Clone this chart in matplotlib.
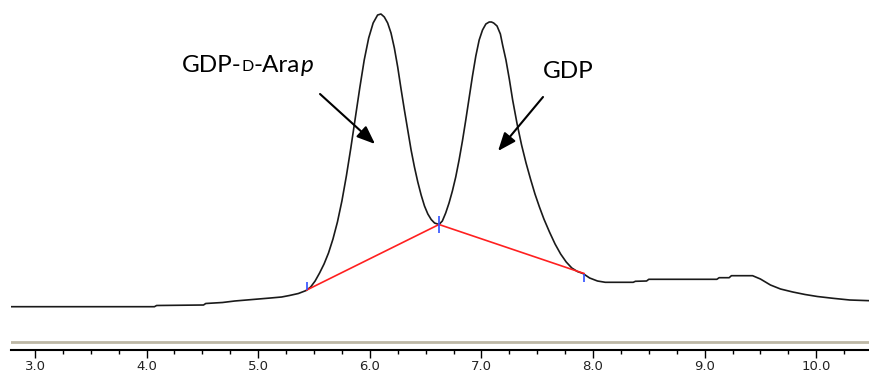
"""
HPLC trace: GDP-D-Arap and GDP peaks with integration baseline.
"""

import matplotlib
matplotlib.use("Agg")
import matplotlib.pyplot as plt
from matplotlib.ticker import MultipleLocator, FormatStrFormatter

# Trace (retention time in min, detector signal in a.u.)
time = [2.78, 4.07, 4.09, 4.51, 4.53, 4.68, 4.79, 4.95, 5.11, 5.21, 5.28, 5.36,
        5.43, 5.47, 5.51, 5.55, 5.59, 5.63, 5.67, 5.71, 5.75, 5.79, 5.83, 5.87,
        5.91, 5.95, 5.99, 6.03, 6.07, 6.10, 6.13, 6.16, 6.19, 6.22, 6.25, 6.28,
        6.31, 6.34, 6.37, 6.40, 6.43, 6.46, 6.49, 6.52, 6.55, 6.58, 6.62, 6.65,
        6.68, 6.71, 6.74, 6.77, 6.80, 6.83, 6.86, 6.89, 6.92, 6.95, 6.98, 7.01,
        7.04, 7.07, 7.09, 7.11, 7.14, 7.17, 7.19, 7.22, 7.25, 7.28, 7.32, 7.36,
        7.40, 7.44, 7.48, 7.52, 7.56, 7.61, 7.66, 7.71, 7.76, 7.81, 7.86, 7.91,
        7.97, 8.04, 8.11, 8.36, 8.38, 8.48, 8.50, 9.11, 9.13, 9.22, 9.24, 9.43,
        9.50, 9.59, 9.68, 9.79, 9.90, 10.01, 10.15, 10.30, 10.48]
signal = [43.3, 43.3, 44.5, 45.0, 46.5, 47.5, 49.0, 50.5, 52.0, 53.0, 54.5, 56.5,
          59.5, 63.0, 69.0, 77.0, 86.0, 97.0, 111.0, 128.0, 149.0, 174.0, 202.0, 232.0,
          262.0, 290.0, 312.0, 327.0, 335.0, 336.0, 333.0, 327.0, 317.0, 302.0, 283.0, 261.0,
          240.0, 220.0, 200.0, 183.0, 168.0, 155.0, 144.0, 136.0, 130.5, 127.0, 125.5, 129.0,
          137.0, 147.0, 159.0, 173.0, 190.0, 209.0, 230.0, 252.0, 274.0, 294.0, 310.0, 320.0,
          326.0, 328.0, 328.0, 327.0, 324.0, 316.0, 305.0, 290.0, 271.0, 250.0, 226.0, 205.0,
          187.0, 171.0, 156.0, 143.0, 131.0, 118.0, 106.0, 96.0, 88.0, 82.0, 78.5, 76.5,
          72.0, 69.0, 67.7, 67.7, 68.7, 69.0, 70.7, 70.7, 72.3, 72.3, 74.3, 74.3,
          71.0, 65.0, 61.0, 58.0, 55.5, 53.5, 51.7, 50.0, 49.3]

# Integration baseline (red) and peak start/end markers (blue)
base_x = [5.435, 6.62, 7.92]
base_y = [60.0, 125.5, 76.5]
mark_x = [5.435, 6.62, 7.92]
mark_lo = [60.0, 117.0, 68.5]
mark_hi = [68.5, 134.0, 76.5]

xticks = [3.0, 4.0, 5.0, 6.0, 7.0, 8.0, 9.0, 10.0]

fig = plt.figure(figsize=(8.7, 3.76), dpi=100)
ax = fig.add_axes([11 / 870, 1 - 350 / 376, 1 - 11 / 870, 350 / 376])

ax.axhline(8, color='#bdb8a6', lw=2)
ax.plot(time, signal, color='#1a1a1a', lw=1.2)
ax.plot(base_x, base_y, color='#ff2020', lw=1.2)
ax.vlines(mark_x, mark_lo, mark_hi, color='#3050ff', lw=1.2)

# Peak labels
lab = dict(family=['Lato', 'DejaVu Sans'], color='black')
t1 = ax.text(4.317, 278, 'GDP-', fontsize=17.5, va='baseline', ha='left', **lab)
t2 = ax.annotate('D', xy=(1, 0), xycoords=t1, xytext=(0, 1.3), textcoords='offset points',
                 fontsize=11.5, va='bottom', ha='left', **lab)
t3 = ax.annotate('-Ara', xy=(1, 0), xycoords=t2, xytext=(0, -1.3), textcoords='offset points',
                 fontsize=17.5, va='bottom', ha='left', **lab)
ax.annotate('p', xy=(1, 0), xycoords=t3, fontsize=17.5, va='bottom', ha='left',
            style='italic', **lab)
ax.text(7.552, 272, 'GDP', fontsize=17.5, va='baseline', ha='left', **lab)

arrow = dict(arrowstyle='-|>,head_length=0.55,head_width=0.22', color='black',
             lw=1.5, mutation_scale=20, shrinkA=0, shrinkB=0)
ax.annotate('', xy=(6.047, 206), xytext=(5.554, 256), arrowprops=arrow)
ax.annotate('', xy=(7.149, 199), xytext=(7.552, 253), arrowprops=arrow)

ax.set_xlim(2.785, 10.482)
ax.set_ylim(0, 350)
for side in ['left', 'right', 'top']:
    ax.spines[side].set_visible(False)
ax.spines['bottom'].set_linewidth(1.5)
ax.set_yticks([])
ax.set_xticks(xticks)
ax.xaxis.set_minor_locator(MultipleLocator(0.25))
ax.xaxis.set_major_formatter(FormatStrFormatter('%.1f'))
ax.tick_params(axis='x', which='major', length=6, width=1, pad=1.5, labelsize=9.5,
               labelcolor='#222222')
ax.tick_params(axis='x', which='minor', length=3, width=1)

fig.savefig('out.png', dpi=100)
plt.close(fig)
